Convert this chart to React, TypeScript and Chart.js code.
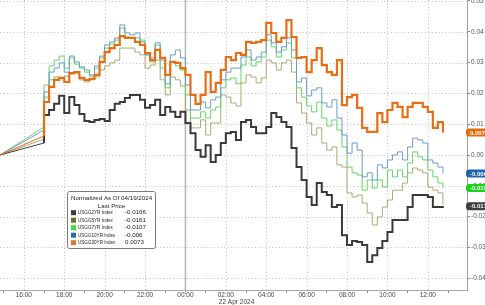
import React, { useEffect, useRef } from 'react';
import { Chart, registerables } from 'chart.js';

Chart.register(...registerables);

// ---- axis ranges (hours relative to 00:00, 22 Apr 2024) ----
const X_MIN = -9.18;
const X_MAX = 13.94;
const Y_MIN = -0.0438;
const Y_MAX = 0.0503;
const Y_TICKS = [-0.04, -0.03, -0.02, -0.01, 0, 0.01, 0.02, 0.03, 0.04, 0.05];
const HOUR_TICKS = [-9, -8, -7, -6, -5, -4, -3, -2, -1, 0, 1, 2, 3, 4, 5, 6, 7, 8, 9, 10, 11, 12, 13];
const DATE_LABEL = '22 Apr 2024';

// ---- data ----
const GAP_START = -9.18;      // start of the overnight segment (normalised = 0)
const START_HOUR = -7;        // 17:00, first traded sample
const STEP_HOURS = 0.25;      // 15-minute samples

const seriesNames = ['USGG2YR Index', 'USGG5YR Index', 'USGG7YR Index', 'USGG10YR Index', 'USGG30YR Index'];
const lastPrices = ['-0.0166', '-0.0161', '-0.0107', '-0.006', '0.0073'];
const badgeLabels = ['-0.017', '', '-0.011', '-0.006', '0.007'];
const preJump = [0.0039, 0.0052, 0.0091, 0.0081, 0.0062];

const usgg2yr = [
  0.0130, 0.0146, 0.0166, 0.0192, 0.0136, 0.0188, 0.0162, 0.0133, 0.0110, 0.0107,
  0.0114, 0.0117, 0.0110, 0.0146, 0.0166, 0.0172, 0.0185, 0.0195, 0.0195, 0.0179,
  0.0153, 0.0162, 0.0179, 0.0130, 0.0156, 0.0140, 0.0123, 0.0140, 0.0104, 0.0071,
  0.0016, -0.0006, 0.0032, -0.0023, 0.0000, 0.0039, 0.0071, 0.0075, 0.0049, 0.0107,
  0.0114, 0.0091, 0.0071, 0.0071, 0.0091, 0.0136, 0.0123, 0.0107, 0.0091, 0.0023,
  -0.0039, -0.0081, -0.0136, -0.0162, -0.0091, -0.0120, -0.0130, -0.0169, -0.0162, -0.0260,
  -0.0292, -0.0279, -0.0282, -0.0292, -0.0347, -0.0325, -0.0302, -0.0279, -0.0250, -0.0211,
  -0.0211, -0.0211, -0.0169, -0.0130, -0.0130, -0.0130, -0.0136, -0.0169, -0.0169, -0.0166,
];

const usgg5yr = [
  0.0188, 0.0244, 0.0253, 0.0250, 0.0256, 0.0263, 0.0266, 0.0244, 0.0237, 0.0244,
  0.0253, 0.0276, 0.0289, 0.0299, 0.0308, 0.0347, 0.0347, 0.0347, 0.0334, 0.0325,
  0.0282, 0.0292, 0.0308, 0.0244, 0.0195, 0.0253, 0.0244, 0.0224, 0.0146, 0.0088,
  0.0088, 0.0114, 0.0065, 0.0104, 0.0104, 0.0195, 0.0188, 0.0169, 0.0159, 0.0234,
  0.0260, 0.0253, 0.0234, 0.0250, 0.0308, 0.0299, 0.0276, 0.0299, 0.0308, 0.0269,
  0.0169, 0.0136, 0.0104, 0.0065, 0.0088, 0.0039, 0.0016, 0.0026, -0.0032, -0.0039,
  -0.0123, -0.0136, -0.0130, -0.0156, -0.0188, -0.0227, -0.0201, -0.0169, -0.0146, -0.0114,
  -0.0114, -0.0091, -0.0058, -0.0042, -0.0049, -0.0058, -0.0104, -0.0114, -0.0123, -0.0161,
];

const usgg7yr = [
  0.0227, 0.0289, 0.0308, 0.0321, 0.0282, 0.0315, 0.0295, 0.0282, 0.0269, 0.0256,
  0.0282, 0.0315, 0.0347, 0.0360, 0.0373, 0.0412, 0.0383, 0.0380, 0.0380, 0.0373,
  0.0325, 0.0302, 0.0357, 0.0282, 0.0218, 0.0302, 0.0289, 0.0276, 0.0195, 0.0120,
  0.0120, 0.0140, 0.0120, 0.0146, 0.0156, 0.0218, 0.0244, 0.0250, 0.0231, 0.0292,
  0.0318, 0.0289, 0.0302, 0.0318, 0.0373, 0.0351, 0.0318, 0.0341, 0.0364, 0.0315,
  0.0218, 0.0188, 0.0159, 0.0140, 0.0172, 0.0120, 0.0094, 0.0114, 0.0081, 0.0026,
  -0.0039, -0.0058, -0.0065, -0.0114, -0.0081, -0.0107, -0.0081, -0.0104, -0.0049, -0.0071,
  -0.0049, -0.0071, -0.0026, 0.0010, -0.0006, -0.0016, -0.0049, -0.0071, -0.0091, -0.0107,
];

const usgg10yr = [
  0.0205, 0.0269, 0.0282, 0.0299, 0.0269, 0.0321, 0.0302, 0.0286, 0.0276, 0.0260,
  0.0289, 0.0321, 0.0357, 0.0367, 0.0380, 0.0422, 0.0396, 0.0390, 0.0396, 0.0367,
  0.0325, 0.0315, 0.0364, 0.0308, 0.0231, 0.0325, 0.0341, 0.0315, 0.0227, 0.0146,
  0.0146, 0.0172, 0.0153, 0.0179, 0.0188, 0.0244, 0.0269, 0.0282, 0.0282, 0.0318,
  0.0341, 0.0308, 0.0318, 0.0334, 0.0390, 0.0364, 0.0334, 0.0351, 0.0380, 0.0341,
  0.0237, 0.0250, 0.0192, 0.0211, 0.0218, 0.0169, 0.0156, 0.0179, 0.0120, 0.0065,
  0.0006, 0.0039, 0.0016, -0.0071, -0.0058, -0.0081, -0.0032, -0.0042, -0.0016, 0.0000,
  0.0010, -0.0016, 0.0026, 0.0055, 0.0049, 0.0039, -0.0016, -0.0026, -0.0039, -0.0060,
];

const usgg30yr = [
  0.0172, 0.0221, 0.0244, 0.0250, 0.0237, 0.0266, 0.0269, 0.0250, 0.0244, 0.0247,
  0.0260, 0.0302, 0.0334, 0.0347, 0.0357, 0.0386, 0.0380, 0.0380, 0.0367, 0.0357,
  0.0331, 0.0308, 0.0341, 0.0315, 0.0260, 0.0302, 0.0299, 0.0282, 0.0260, 0.0195,
  0.0166, 0.0195, 0.0269, 0.0205, 0.0234, 0.0276, 0.0318, 0.0308, 0.0331, 0.0325,
  0.0367, 0.0364, 0.0367, 0.0373, 0.0429, 0.0396, 0.0367, 0.0380, 0.0438, 0.0383,
  0.0315, 0.0318, 0.0269, 0.0308, 0.0347, 0.0292, 0.0269, 0.0260, 0.0308, 0.0162,
  0.0188, 0.0195, 0.0153, 0.0088, 0.0075, 0.0075, 0.0136, 0.0107, 0.0146, 0.0169,
  0.0156, 0.0123, 0.0156, 0.0169, 0.0169, 0.0156, 0.0140, 0.0088, 0.0107, 0.0073,
];

const seriesValues = [usgg2yr, usgg5yr, usgg7yr, usgg10yr, usgg30yr];

// ---- styles ----
const lineColors = ['#3a3a3a', '#aca874', '#66d466', '#6c9cc6', '#e66f16'];
const lineWidths = [2, 1, 1, 1, 2.2];
const drawOrder = [1, 4, 3, 2, 0];
const swatchColors = ['#3a3a3a', '#5b7a2c', '#3ee23e', '#2a6ca6', '#e0782a'];
const badgeColors = ['#3e3e3e', '#5b7a2c', '#1fd01f', '#2364a8', '#e46a10'];
const FONT = '"Liberation Sans", Arial, sans-serif';

const timesFor = (n: number) => Array.from({ length: n }, (_, k) => START_HOUR + k * STEP_HOURS);

const hourLabel = (h: number) => {
  const hh = ((h % 24) + 24) % 24;
  return (hh < 10 ? '0' : '') + hh + ':00';
};

export default function App() {
  const ref = useRef<HTMLCanvasElement | null>(null);

  useEffect(() => {
    if (!ref.current) return;

    const datasets: any[] = [];
    seriesValues.forEach((vals, i) => {
      const times = timesFor(vals.length);
      datasets.push({
        label: seriesNames[i],
        data: [{ x: START_HOUR, y: preJump[i] }, ...vals.map((v, k) => ({ x: times[k], y: v }))],
        borderColor: lineColors[i],
        borderWidth: lineWidths[i],
        stepped: 'before',
        pointRadius: 0,
        fill: false,
        order: drawOrder[i],
      });
      datasets.push({
        label: seriesNames[i] + ' gap',
        data: [{ x: GAP_START, y: 0 }, { x: START_HOUR, y: preJump[i] }],
        borderColor: lineColors[i],
        borderWidth: 1,
        pointRadius: 0,
        fill: false,
        order: drawOrder[i],
      });
    });

    const gridPlugin = {
      id: 'bbgGrid',
      beforeDatasetsDraw(chart: any) {
        const { ctx, chartArea, scales } = chart;
        const { left, right, top, bottom } = chartArea;
        const xs = scales.x;
        const ys = scales.y;
        ctx.save();
        ctx.strokeStyle = '#bdbdbd';
        ctx.lineWidth = 1;
        ctx.setLineDash([1, 2.4]);
        Y_TICKS.forEach((v) => {
          const py = Math.round(ys.getPixelForValue(v)) + 0.5;
          ctx.beginPath();
          ctx.moveTo(left, py);
          ctx.lineTo(right, py);
          ctx.stroke();
        });
        HOUR_TICKS.forEach((h) => {
          if (h % 2 !== 0 || h === 0) return;
          const px = Math.round(xs.getPixelForValue(h)) + 0.5;
          ctx.beginPath();
          ctx.moveTo(px, top);
          ctx.lineTo(px, bottom);
          ctx.stroke();
        });
        ctx.setLineDash([]);
        ctx.strokeStyle = '#b4b4b4';
        ctx.lineWidth = 1.5;
        const p0 = xs.getPixelForValue(0);
        ctx.beginPath();
        ctx.moveTo(p0, top);
        ctx.lineTo(p0, bottom + 3);
        ctx.stroke();
        ctx.restore();
      },
    };

    const overlayPlugin = {
      id: 'bbgOverlay',
      afterDraw(chart: any) {
        const { ctx, scales } = chart;
        const xs = scales.x;
        const ys = scales.y;
        ctx.save();

        // date under the 02:00 label
        ctx.fillStyle = '#444';
        ctx.font = '6.5px ' + FONT;
        ctx.textAlign = 'left';
        ctx.textBaseline = 'middle';
        ctx.fillText(DATE_LABEL, xs.getPixelForValue(2) - 7, 302.5);

        // last-value badges on the right axis
        const ax = chart.chartArea.right - 1;
        [1, 0, 2, 3, 4].forEach((i) => {
          if (!badgeLabels[i]) return;
          const vals = seriesValues[i];
          const py = ys.getPixelForValue(vals[vals.length - 1]);
          ctx.fillStyle = badgeColors[i];
          ctx.beginPath();
          (ctx as any).roundRect(ax, py - 4, 30, 8, 3);
          ctx.fill();
          ctx.fillStyle = '#ffffff';
          ctx.font = 'bold 6px ' + FONT;
          ctx.textAlign = 'left';
          ctx.textBaseline = 'middle';
          ctx.fillText(badgeLabels[i], ax + 4, py + 0.5);
        });

        // legend box
        const bx = 67.5, by = 191.5, bw = 88, bh = 57;
        ctx.fillStyle = 'rgba(255,255,255,0.95)';
        ctx.strokeStyle = '#7a7a7a';
        ctx.lineWidth = 1;
        ctx.beginPath();
        (ctx as any).roundRect(bx, by, bw, bh, 2);
        ctx.fill();
        ctx.stroke();
        ctx.fillStyle = '#222';
        ctx.font = '6.2px ' + FONT;
        ctx.textAlign = 'center';
        ctx.textBaseline = 'middle';
        ctx.fillText('Normalized As Of 04/19/2024', bx + bw / 2, 198.5);
        ctx.fillText('Last Price', bx + bw / 2, 205.8);
        ctx.textAlign = 'left';
        seriesNames.forEach((name, i) => {
          const ry = 212.7 + i * 7.5;
          ctx.fillStyle = swatchColors[i];
          ctx.fillRect(71, ry - 2.5, 5, 5);
          ctx.fillStyle = '#222';
          ctx.save();
          ctx.translate(78, ry);
          ctx.scale(0.74, 1);
          ctx.fillText(name, 0, 0);
          ctx.restore();
          ctx.fillText(lastPrices[i], 125, ry);
        });
        ctx.restore();
      },
    };

    const chart = new Chart(ref.current, {
      type: 'line',
      data: { datasets },
      options: {
        animation: false,
        responsive: false,
        maintainAspectRatio: false,
        devicePixelRatio: 1,
        layout: { padding: 0 },
        plugins: { legend: { display: false }, tooltip: { enabled: false } },
        elements: { point: { radius: 0 }, line: { tension: 0 } },
        scales: {
          x: {
            type: 'linear',
            position: 'bottom',
            min: X_MIN,
            max: X_MAX,
            afterBuildTicks: (s: any) => {
              s.ticks = HOUR_TICKS.map((v) => ({ value: v }));
            },
            afterFit: (s: any) => {
              s.height = 15;
              s.paddingLeft = 0;
              s.paddingRight = 0;
            },
            grid: {
              drawOnChartArea: false,
              drawTicks: true,
              tickLength: 3,
              tickWidth: 1,
              tickColor: (c: any) => (c.tick && Math.abs(c.tick.value % 2) === 1 ? '#8a8a8a' : 'rgba(0,0,0,0)'),
            },
            border: { display: true, color: '#a8a8a8', width: 1 },
            ticks: {
              autoSkip: false,
              maxRotation: 0,
              minRotation: 0,
              padding: -2,
              color: '#444',
              font: { family: FONT, size: 6.5 },
              callback: (v: any) => (Number(v) % 2 === 0 ? hourLabel(Number(v)) : ''),
            },
          },
          y: {
            type: 'linear',
            position: 'right',
            min: Y_MIN,
            max: Y_MAX,
            afterBuildTicks: (s: any) => {
              s.ticks = Y_TICKS.map((v) => ({ value: v }));
            },
            afterFit: (s: any) => {
              s.width = 18;
              s.paddingTop = 0;
              s.paddingBottom = 0;
            },
            grid: { drawOnChartArea: false, drawTicks: true, tickLength: 3, tickColor: '#8a8a8a' },
            border: { display: true, color: '#a0a0a0', width: 1 },
            ticks: {
              padding: 1,
              color: '#555',
              font: { family: FONT, size: 6.5 },
              callback: (v: any) => Number(v).toFixed(2),
            },
          },
        },
      },
      plugins: [gridPlugin, overlayPlugin],
    } as any);

    return () => chart.destroy();
  }, []);

  return (
    <div style={{ position: 'fixed', left: 0, top: 0, width: 485, height: 305, background: '#ffffff' }}>
      <canvas ref={ref} width={485} height={305} style={{ display: 'block', width: 485, height: 305 }} />
    </div>
  );
}
